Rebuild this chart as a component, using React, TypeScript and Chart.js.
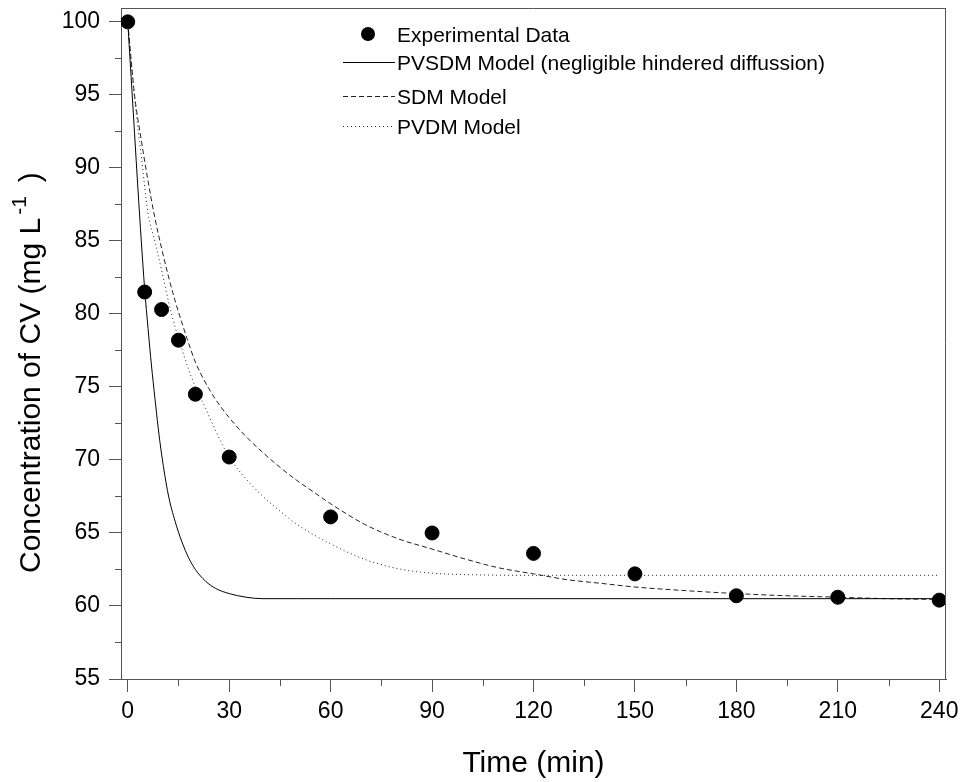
import React, { useEffect, useRef } from 'react';
import { Chart, registerables } from 'chart.js';

Chart.register(...registerables);

// ---------- data ----------
const expTime = [0, 5, 10, 15, 20, 30, 60, 90, 120, 150, 180, 210, 240];
const expConc = [100, 81.5, 80.3, 78.2, 74.5, 70.2, 66.1, 65.0, 63.6, 62.2, 60.7, 60.6, 60.4];

const pvsdmTime = [0, 1, 2, 3, 4, 5, 6, 7, 8, 9, 10, 12, 14, 16, 18, 20, 23, 26, 30, 35, 40, 50, 60, 90, 120, 150, 180, 210, 240];
const pvsdmConc = [100, 96.2, 92.4, 88.6, 85.0, 81.7, 79.0, 76.5, 74.3, 72.2, 70.4, 67.6, 65.8, 64.4, 63.3, 62.5, 61.7, 61.2, 60.85, 60.6, 60.5, 60.5, 60.5, 60.5, 60.5, 60.5, 60.5, 60.5, 60.5];

const sdmTime = [0, 1, 2, 4, 6, 8, 10, 12, 14, 16, 18, 20, 25, 30, 35, 40, 45, 50, 55, 60, 70, 80, 90, 100, 110, 120, 130, 140, 150, 165, 180, 195, 210, 225, 240];
const sdmConc = [100, 97.4, 95, 91.9, 89.1, 86.6, 84.5, 82.6, 80.9, 79.4, 78.0, 76.7, 74.5, 72.9, 71.6, 70.5, 69.5, 68.6, 67.8, 67.0, 65.6, 64.6, 63.9, 63.2, 62.6, 62.2, 61.8, 61.55, 61.3, 61.05, 60.85, 60.7, 60.6, 60.5, 60.45];

const pvdmTime = [0, 1, 2, 4, 6, 8, 10, 12, 14, 16, 18, 20, 22.5, 25, 30, 35, 40, 45, 50, 60, 70, 80, 90, 100, 120, 150, 180, 210, 240];
const pvdmConc = [100, 97.3, 94.8, 90.8, 86.9, 85.0, 83.0, 80.9, 79.1, 77.6, 76.2, 75.0, 73.8, 72.5, 70.2, 68.7, 67.5, 66.5, 65.6, 64.25, 63.2, 62.55, 62.25, 62.15, 62.1, 62.1, 62.1, 62.1, 62.1];

const xTicks = [0, 30, 60, 90, 120, 150, 180, 210, 240];
const xMinor = [15, 45, 75, 105, 135, 165, 195, 225];
const yTicks = [55, 60, 65, 70, 75, 80, 85, 90, 95, 100];
const yMinor = [57.5, 62.5, 67.5, 72.5, 77.5, 82.5, 87.5, 92.5, 97.5];

const legendLabels = [
  'Experimental Data',
  'PVSDM Model (negligible hindered diffussion)',
  'SDM Model',
  'PVDM Model',
];
const xTitle = 'Time (min)';
const yTitleMain = 'Concentration of CV (mg L';
const yTitleSup = '-1';
const yTitleEnd = ')';

// ---------- styles ----------
const FONT = '"Liberation Sans", Arial, Helvetica, sans-serif';
const AXIS = '#555555';

const toPts = (t: number[], c: number[]) => t.map((x, i) => ({ x, y: c[i] }));

const extrasPlugin = {
  id: 'extras',
  afterDraw(chart: any) {
    const { ctx, chartArea: a, scales } = chart;
    const xs = scales.x;
    const ys = scales.y;
    ctx.save();
    ctx.strokeStyle = AXIS;
    ctx.lineWidth = 1;
    ctx.setLineDash([]);
    ctx.beginPath();
    // top & right frame
    ctx.moveTo(a.left, a.top + 0.5);
    ctx.lineTo(a.right, a.top + 0.5);
    ctx.moveTo(a.right - 0.5, a.top);
    ctx.lineTo(a.right - 0.5, a.bottom);
    // minor ticks
    xMinor.forEach((v) => {
      const px = Math.round(xs.getPixelForValue(v)) + 0.5;
      ctx.moveTo(px, a.bottom);
      ctx.lineTo(px, a.bottom + 7);
    });
    yMinor.forEach((v) => {
      const py = Math.round(ys.getPixelForValue(v)) + 0.5;
      ctx.moveTo(a.left - 6, py);
      ctx.lineTo(a.left, py);
    });
    ctx.stroke();

    // legend
    ctx.fillStyle = '#000';
    ctx.textAlign = 'left';
    ctx.textBaseline = 'alphabetic';
    ctx.font = `21px ${FONT}`;
    const tx = 397;
    const rows = [34, 62, 96, 126];
    ctx.beginPath();
    ctx.arc(368, rows[0], 7, 0, Math.PI * 2);
    ctx.fill();
    const drawLine = (y: number, dash: number[], color: string) => {
      ctx.save();
      ctx.strokeStyle = color;
      ctx.setLineDash(dash);
      ctx.beginPath();
      ctx.moveTo(343, y + 0.5);
      ctx.lineTo(395, y + 0.5);
      ctx.stroke();
      ctx.restore();
    };
    drawLine(rows[1], [], '#000');
    drawLine(rows[2], [5, 3], '#222');
    drawLine(rows[3], [1, 3], '#222');
    legendLabels.forEach((lab, i) => {
      ctx.fillText(lab, tx, rows[i] + 7.5);
    });

    // x title
    ctx.font = `30px ${FONT}`;
    ctx.textAlign = 'center';
    ctx.fillText(xTitle, (a.left + a.right) / 2, 771.5);

    // y title with superscript
    ctx.save();
    ctx.translate(40, 573);
    ctx.rotate(-Math.PI / 2);
    ctx.textAlign = 'left';
    ctx.font = `30px ${FONT}`;
    ctx.fillText(yTitleMain, 0, 0);
    const w = ctx.measureText(yTitleMain).width;
    ctx.font = `21px ${FONT}`;
    ctx.fillText(yTitleSup, w + 3, -14);
    const sw = ctx.measureText(yTitleSup).width;
    ctx.font = `30px ${FONT}`;
    ctx.fillText(yTitleEnd, w + 3 + sw + 14, 0);
    ctx.restore();

    ctx.restore();
  },
};

export default function App() {
  const ref = useRef<HTMLCanvasElement | null>(null);

  useEffect(() => {
    if (!ref.current) return;
    const chart = new Chart(ref.current, {
      type: 'scatter',
      data: {
        datasets: [
          {
            label: legendLabels[0],
            data: toPts(expTime, expConc),
            backgroundColor: '#000',
            borderColor: '#000',
            pointRadius: 7,
            pointHoverRadius: 7,
            showLine: false,
          },
          {
            label: legendLabels[1],
            data: toPts(pvsdmTime, pvsdmConc),
            borderColor: '#000',
            borderWidth: 1,
            pointRadius: 0,
            showLine: true,
            cubicInterpolationMode: 'monotone',
          },
          {
            label: legendLabels[2],
            data: toPts(sdmTime, sdmConc),
            borderColor: '#222',
            borderWidth: 1,
            borderDash: [5, 3],
            pointRadius: 0,
            showLine: true,
            cubicInterpolationMode: 'monotone',
          },
          {
            label: legendLabels[3],
            data: toPts(pvdmTime, pvdmConc),
            borderColor: '#222',
            borderWidth: 1,
            borderDash: [1, 3],
            pointRadius: 0,
            showLine: true,
            cubicInterpolationMode: 'monotone',
          },
        ],
      },
      options: {
        responsive: false,
        animation: false,
        devicePixelRatio: 1,
        layout: { padding: { left: 0, top: 6, right: 19, bottom: 0 } },
        plugins: {
          legend: { display: false },
          tooltip: { enabled: false },
          title: { display: false },
        },
        scales: {
          x: {
            type: 'linear',
            min: -2,
            max: 242,
            afterBuildTicks: (s: any) => {
              s.ticks = xTicks.map((v) => ({ value: v }));
            },
            afterFit: (s: any) => {
              s.height = 103;
              s.paddingLeft = 0;
              s.paddingRight = 0;
            },
            grid: {
              display: true,
              drawOnChartArea: false,
              drawTicks: true,
              tickLength: 13,
              color: AXIS,
              lineWidth: 1,
            },
            border: { display: true, color: AXIS, width: 1 },
            ticks: {
              autoSkip: false,
              maxRotation: 0,
              minRotation: 0,
              padding: 6,
              color: '#000',
              font: { family: FONT, size: 23 },
            },
          },
          y: {
            type: 'linear',
            min: 55,
            max: 100.95,
            afterBuildTicks: (s: any) => {
              s.ticks = yTicks.map((v) => ({ value: v }));
            },
            afterFit: (s: any) => {
              s.width = 121;
              s.paddingTop = 0;
              s.paddingBottom = 0;
            },
            grid: {
              display: true,
              drawOnChartArea: false,
              drawTicks: true,
              tickLength: 12,
              color: AXIS,
              lineWidth: 1,
            },
            border: { display: true, color: AXIS, width: 1 },
            ticks: {
              autoSkip: false,
              padding: 9,
              color: '#000',
              font: { family: FONT, size: 23 },
            },
          },
        },
      } as any,
      plugins: [extrasPlugin],
    });
    return () => chart.destroy();
  }, []);

  return (
    <div style={{ position: 'absolute', left: 0, top: 0, width: 965, height: 782, background: '#fff' }}>
      <canvas ref={ref} width={965} height={782} style={{ display: 'block', width: 965, height: 782 }} />
    </div>
  );
}
